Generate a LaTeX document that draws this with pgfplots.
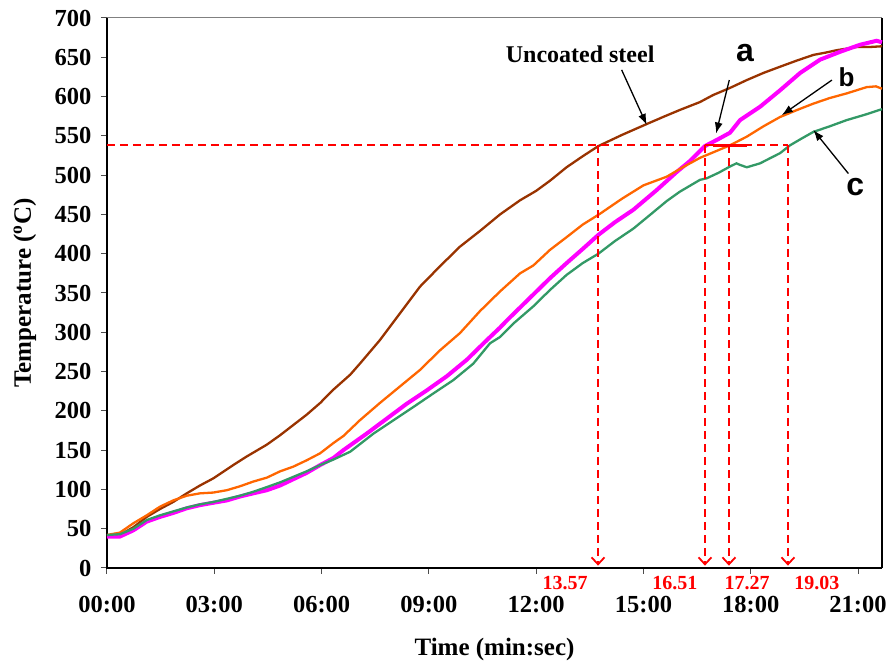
\documentclass[border=0pt]{standalone}
\usepackage{fontspec}
\setmainfont{Liberation Serif}
\newfontfamily\arialfont{Liberation Sans}
\usepackage{pgfplots}
\pgfplotsset{compat=1.18}
\usetikzlibrary{arrows.meta}
\definecolor{brownc}{HTML}{993300}
\definecolor{orangec}{HTML}{FF6600}
\definecolor{magc}{HTML}{FF00FF}
\definecolor{greenc}{HTML}{339966}
\begin{document}
\begin{tikzpicture}
\begin{axis}[
  width=775pt, height=550pt, scale only axis,
  xmin=0, xmax=21.67, ymin=0, ymax=700,
  xtick={0,3,...,21},
  xticklabels={00:00,03:00,06:00,09:00,12:00,15:00,18:00,21:00},
  ytick={0,50,...,700},
  xtick pos=bottom, ytick pos=left,
  tick align=outside, major tick length=6pt,
  tick style={black!70, line width=1pt},
  axis line style={draw=none},
  clip=false,
  ticklabel style={font=\fontsize{24.5}{28}\selectfont\bfseries},
  x tick label style={yshift=-21pt, inner sep=1pt},
  y tick label style={xshift=-6pt},
  /pgf/number format/assume math mode=true,
  xlabel={Time (min:sec)},
  ylabel={Temperature (\textsuperscript{o}C)},
  label style={font=\fontsize{25}{29}\selectfont\bfseries},
  x label style={at={(axis description cs:0.5,-0.149)}, anchor=center},
  y label style={at={(axis description cs:-0.106,0.5)}, anchor=center},
]
% frame
\draw[gray, line width=1pt] (rel axis cs:0,1) -- (rel axis cs:1,1);
\draw[black, line width=1.3pt] (rel axis cs:1,1) -- (rel axis cs:1,0);
\draw[black, line width=2pt] (rel axis cs:0,1) -- (rel axis cs:0,0) -- (rel axis cs:1,0);
\coordinate (bl) at (rel axis cs:0,0);
\coordinate (tr) at (rel axis cs:1,1);

% Uncoated steel
\addplot[brownc, line width=2.3pt] coordinates {
(0,40) (0.36,42) (0.74,52) (1.11,65) (1.48,75) (1.85,84) (2.23,95) (2.60,105)
(2.97,114) (3.53,131) (3.91,142) (4.47,157) (4.84,169) (5.21,182) (5.58,195)
(5.96,210) (6.33,227) (6.80,246) (7.07,260) (7.63,290) (8.19,324) (8.75,358)
(9.31,384) (9.87,409) (10.43,429) (10.99,450) (11.55,468) (12.0,480) (12.39,493)
(12.85,510) (13.3,524) (13.74,537) (14.39,551) (15.09,565) (15.6,575) (16.02,583)
(16.58,593) (16.95,602) (17.42,611) (17.89,621) (18.35,630) (18.82,638) (19.3,646)
(19.75,653) (20.1,656) (20.40,659) (20.96,663) (21.3,663) (21.67,664)
};
% a
\addplot[magc, line width=4pt] coordinates {
(0,40) (0.36,40) (0.74,48) (1.11,59) (1.48,65) (1.85,70) (2.23,76) (2.60,80)
(2.97,83) (3.35,86) (3.72,91) (4.09,95) (4.47,99) (4.84,105) (5.21,113) (5.58,121)
(5.96,131) (6.33,140) (6.61,150) (7.26,171) (7.82,190) (8.38,209) (8.94,226)
(9.50,244) (10.06,265) (10.62,290) (10.99,306) (11.18,315) (11.74,340) (12.39,369)
(12.85,388) (13.30,406) (13.74,424) (14.2,440) (14.72,456) (15.37,481) (15.93,504)
(16.30,518) (16.72,537) (17.10,546) (17.42,554) (17.70,570) (18.26,587) (18.82,608)
(19.38,630) (19.94,647) (20.50,657) (21.06,666) (21.52,671) (21.67,669)
};
% b
\addplot[orangec, line width=2.3pt] coordinates {
(0,42) (0.36,45) (0.74,57) (1.11,67) (1.48,78) (1.85,86) (2.23,92) (2.60,95)
(2.97,96) (3.35,99) (3.72,104) (4.09,110) (4.47,115) (4.84,123) (5.21,129)
(5.58,137) (5.96,146) (6.33,159) (6.61,168) (7.07,188) (7.63,210) (8.19,231)
(8.75,252) (9.31,277) (9.87,299) (10.43,327) (10.99,352) (11.55,375) (11.92,385)
(12.39,405) (12.85,421) (13.30,437) (13.79,451) (14.4,470) (15.0,487) (15.65,498)
(16.1,510) (16.58,522) (16.95,529) (17.42,538) (17.89,549) (18.35,562) (18.82,574)
(19.3,583) (19.75,591) (20.2,598) (20.68,604) (21.24,612) (21.50,613) (21.67,610)
};
% c
\addplot[greenc, line width=2.3pt] coordinates {
(0,42) (0.36,43) (0.74,50) (1.11,61) (1.48,67) (1.85,72) (2.23,77) (2.60,81)
(2.97,84) (3.35,88) (3.72,92) (4.09,97) (4.47,103) (4.84,109) (5.21,116) (5.58,123)
(5.96,131) (6.33,138) (6.80,148) (7.45,171) (8.01,188) (8.57,205) (9.12,222)
(9.68,239) (10.24,260) (10.71,286) (10.99,294) (11.36,311) (11.92,333) (12.39,354)
(12.85,373) (13.30,388) (13.74,400) (14.2,416) (14.72,432) (15.2,450) (15.65,467)
(16.02,479) (16.58,494) (16.77,496) (17.10,503) (17.42,511) (17.60,515) (17.70,513)
(17.89,510) (18.26,515) (18.82,528) (19.10,538) (19.40,546) (19.75,555) (20.2,562)
(20.68,570) (21.2,577) (21.67,584)
};

% red critical temperature lines
\draw[red, line width=1.8pt, dash pattern=on 8pt off 5pt] (0,538) -- (19.04,538);
\draw[red, line width=2.6pt] (16.95,538) -- (17.9,538);
\pgfplotsinvokeforeach{13.73,16.72,17.39,19.04}{
  \draw[red, line width=1.8pt, dash pattern=on 8pt off 5pt, -{Straight Barb[length=7pt,width=13pt,line width=1.8pt]}] (#1,538) -- (#1,3);
}
\begin{scope}[every node/.style={font=\fontsize{20}{24}\selectfont\bfseries, text=red, inner sep=0pt}]
\node at (12.81,-19) {13.57};
\node at (15.88,-19) {16.51};
\node at (17.90,-19) {17.27};
\node at (19.85,-19) {19.03};
\end{scope}

% annotations
\node[font=\fontsize{24}{28}\selectfont\bfseries] at (13.23,654) {Uncoated steel};
\draw[line width=1.3pt, -{Latex[length=11pt,width=8pt]}] (14.39,634) -- (15.09,564);
\node[font=\arialfont\fontsize{32}{36}\selectfont\bfseries] at (17.84,655) {a};
\draw[line width=1.3pt, -{Latex[length=11pt,width=8pt]}] (17.40,621) -- (17.03,553);
\node[font=\arialfont\fontsize{26}{30}\selectfont\bfseries] at (20.68,625) {b};
\draw[line width=1.3pt, -{Latex[length=11pt,width=8pt]}] (20.27,621) -- (18.87,576.5);
\node[font=\arialfont\fontsize{32}{36}\selectfont\bfseries] at (20.92,485) {c};
\draw[line width=1.3pt, -{Latex[length=11pt,width=8pt]}] (20.73,502) -- (19.75,557.5);
\end{axis}
\pgfresetboundingbox
\path[use as bounding box] ([xshift=-107pt,yshift=-99pt]bl) rectangle ([xshift=10pt,yshift=18pt]tr);
\end{tikzpicture}
\end{document}
